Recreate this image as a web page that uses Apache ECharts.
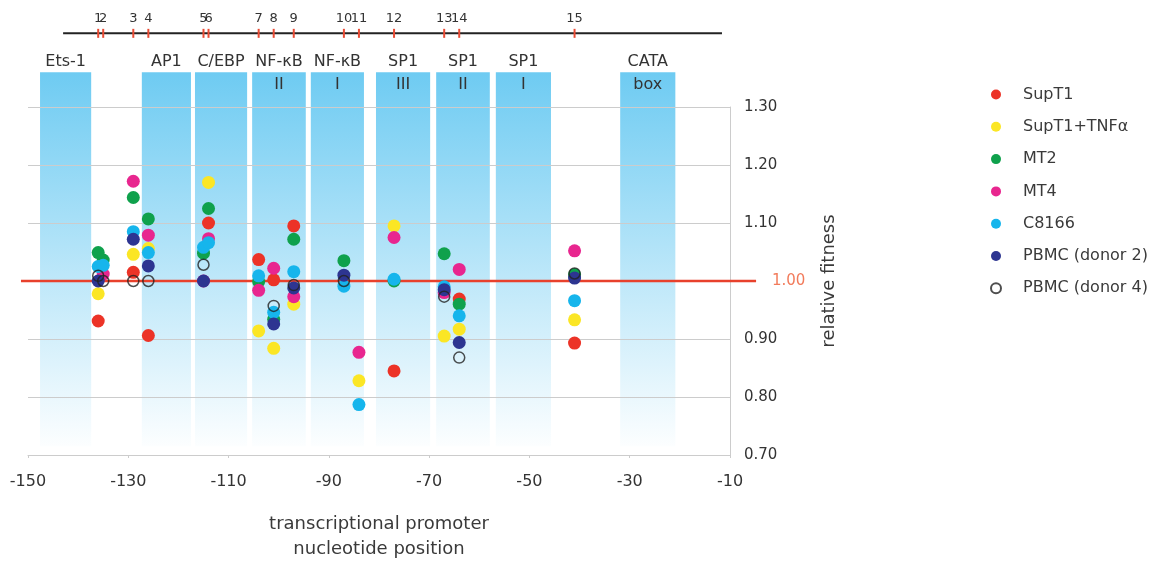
<!DOCTYPE html>
<html>
<head>
<meta charset="utf-8">
<title>relative fitness by promoter position</title>
<script src="https://cdn.jsdelivr.net/npm/echarts@6/dist/echarts.min.js"></script>
<style>
html, body { margin: 0; padding: 0; background: #fff; }
#main { width: 1167px; height: 562px; }
</style>
</head>
<body>
<div id="main"></div>
<script>
// promoter sites (nucleotide position) and their numbers on the map
var siteNums = [1, 2, 3, 4, 5, 6, 7, 8, 9, 10, 11, 12, 13, 14, 15];
var sitePos = [-136, -135, -129, -126, -115, -114, -104, -101, -97, -87, -84, -77, -67, -64, -41];

// transcription factor motifs
var motifTop = ['Ets-1', 'AP1', 'C/EBP', 'NF-\u03baB', 'NF-\u03baB', 'SP1', 'SP1', 'SP1', 'CATA'];
var motifSub = ['', '', '', 'II', 'I', 'III', 'II', 'I', 'box'];
var motifStart = [-147.6, -127.3, -116.7, -105.3, -93.6, -80.6, -68.6, -56.7, -31.9];
var motifEnd = [-137.4, -117.5, -106.3, -94.6, -83.0, -69.8, -57.9, -45.7, -20.9];

// promoter line on top and the reference line at 1.00
var mapLine = [-143.0, -11.6];
var refLine = [-151.4, 1.0, -4.8];

// relative fitness per site (null = no point)
var supT1     = [0.931, null, 1.015, 0.906, null, 1.100, 1.037, 1.002, 1.095, null, null, 0.845, null, 0.969, 0.893];
var supT1TNF  = [0.978, null, 1.046, 1.056, null, 1.170, 0.914, 0.884, 0.960, null, 0.828, 1.095, 0.905, 0.917, 0.933];
var mt2       = [1.049, 1.036, 1.144, 1.107, 1.048, 1.125, 0.999, 0.934, 1.072, 1.035, null, 1.000, 1.047, 0.960, 1.011];
var mt4       = [null, 1.012, 1.172, 1.079, 1.000, 1.073, 0.984, 1.022, 0.973, null, 0.877, 1.075, 0.980, 1.020, 1.052];
var c8166     = [1.025, 1.027, 1.085, 1.049, 1.058, 1.066, 1.009, 0.946, 1.016, 0.991, 0.787, 1.003, 0.990, 0.940, 0.966];
var pbmc2     = [1.000, null, 1.072, 1.026, 1.000, null, null, 0.926, 0.988, 1.010, null, null, 0.985, 0.894, 1.005];
var pbmc4     = [1.009, 1.000, 1.000, 1.000, 1.028, null, null, 0.957, 0.993, 1.000, null, null, 0.973, 0.868, 1.013];

var FONT = 'DejaVu Sans';
var BOX_TOP = 1.360, BOX_BOTTOM = 0.715;
var MAP_Y = 1.427;

function toPoints(vals) {
    var out = [];
    for (var i = 0; i < vals.length; i++) {
        if (vals[i] != null) out.push([sitePos[i], vals[i]]);
    }
    return out;
}

function dotSeries(name, vals, color) {
    return {
        name: name,
        type: 'scatter',
        symbol: 'circle',
        symbolSize: 13,
        itemStyle: { color: color, opacity: 1 },
        data: toPoints(vals),
        z: 5
    };
}

var chart = echarts.init(document.getElementById('main'));

var option = {
    animation: false,
    backgroundColor: '#fff',
    grid: { left: 28, right: 437, top: 107, bottom: 107, outerBoundsMode: 'none', containLabel: false },
    legend: {
        orient: 'vertical',
        left: 985,
        top: 81,
        itemWidth: 10,
        itemHeight: 10,
        itemGap: 15.3,
        textStyle: { fontFamily: FONT, fontSize: 16, color: '#3a3a3a', padding: [0, 0, 0, 17], lineHeight: 17 },
        data: ['SupT1', 'SupT1+TNF\u03b1', 'MT2', 'MT4', 'C8166', 'PBMC (donor 2)', 'PBMC (donor 4)']
    },
    xAxis: {
        type: 'value',
        min: -150,
        max: -10,
        interval: 20,
        axisLine: { show: true, onZero: false, lineStyle: { color: '#cccccc' } },
        axisTick: { show: true, length: 3, lineStyle: { color: '#cccccc' } },
        splitLine: { show: false },
        axisLabel: { fontFamily: FONT, fontSize: 16, color: '#333', margin: 19 },
        name: 'transcriptional promoter\nnucleotide position',
        nameLocation: 'middle',
        nameGap: 57,
        nameTextStyle: { fontFamily: FONT, fontSize: 18, color: '#3a3a3a', lineHeight: 25 }
    },
    yAxis: {
        type: 'value',
        position: 'right',
        min: 0.7,
        max: 1.3,
        interval: 0.1,
        axisLine: { show: true, lineStyle: { color: '#cccccc' } },
        axisTick: { show: false },
        splitLine: { show: true, lineStyle: { color: '#cccccc' } },
        axisLabel: {
            fontFamily: FONT, fontSize: 15, color: '#333', margin: 14,
            formatter: function (v) {
                if (Math.abs(v - 1) < 1e-6) return '{r|1.00}';
                return v.toFixed(2);
            },
            rich: { r: { fontFamily: FONT, fontSize: 15, color: '#f27b5b', padding: [0, 0, 0, 28] } }
        },
        name: 'relative fitness',
        nameLocation: 'middle',
        nameRotate: 90,
        nameGap: 90,
        nameTextStyle: { fontFamily: FONT, fontSize: 18, color: '#3a3a3a' }
    },
    series: [
        {
            // motif boxes
            name: 'motifs',
            type: 'custom',
            z: -1,
            silent: true,
            clip: false,
            data: motifStart.map(function (s, i) { return [s, motifEnd[i]]; }),
            renderItem: function (params, api) {
                var i = params.dataIndex;
                var p0 = api.coord([api.value(0), BOX_TOP]);
                var p1 = api.coord([api.value(1), BOX_BOTTOM]);
                var cx = (p0[0] + p1[0]) / 2;
                return {
                    type: 'group',
                    children: [
                        {
                            type: 'rect',
                            shape: { x: p0[0], y: p0[1], width: p1[0] - p0[0], height: p1[1] - p0[1] },
                            style: {
                                fill: new echarts.graphic.LinearGradient(0, 0, 0, 1, [
                                    { offset: 0, color: 'rgba(110,203,242,1)' },
                                    { offset: 0.55, color: 'rgba(110,203,242,0.45)' },
                                    { offset: 1, color: 'rgba(110,203,242,0.02)' }
                                ])
                            }
                        },
                        {
                            type: 'text',
                            x: cx, y: p0[1] - 10,
                            style: { text: motifTop[i], align: 'center', verticalAlign: 'middle', fontFamily: FONT, fontSize: 16, fill: '#333' }
                        },
                        {
                            type: 'text',
                            x: cx, y: p0[1] + 13,
                            style: { text: motifSub[i], align: 'center', verticalAlign: 'middle', fontFamily: FONT, fontSize: 16, fill: '#333' }
                        }
                    ]
                };
            }
        },
        {
            // promoter line on top
            name: 'map',
            type: 'custom',
            silent: true,
            clip: false,
            data: [mapLine],
            renderItem: function (params, api) {
                var a = api.coord([api.value(0), MAP_Y]);
                var b = api.coord([api.value(1), MAP_Y]);
                return {
                    type: 'line',
                    shape: { x1: a[0], y1: a[1], x2: b[0], y2: b[1] },
                    style: { stroke: '#222', lineWidth: 2 }
                };
            }
        },
        {
            // numbered sites on the promoter line
            name: 'sites',
            type: 'custom',
            silent: true,
            clip: false,
            z: 3,
            data: sitePos.map(function (p, i) { return [p, siteNums[i]]; }),
            renderItem: function (params, api) {
                var c = api.coord([api.value(0), MAP_Y]);
                return {
                    type: 'group',
                    children: [
                        {
                            type: 'line',
                            shape: { x1: c[0], y1: c[1] - 4.5, x2: c[0], y2: c[1] + 4.5 },
                            style: { stroke: '#ea4b34', lineWidth: 2 }
                        },
                        {
                            type: 'text',
                            x: c[0], y: c[1] - 15,
                            style: { text: String(api.value(1)), align: 'center', verticalAlign: 'middle', fontFamily: FONT, fontSize: 13, fill: '#333' }
                        }
                    ]
                };
            }
        },
        {
            // reference line at 1.00
            name: 'ref',
            type: 'custom',
            silent: true,
            clip: false,
            z: 1,
            data: [refLine],
            renderItem: function (params, api) {
                var a = api.coord([api.value(0), api.value(1)]);
                var b = api.coord([api.value(2), api.value(1)]);
                return {
                    type: 'line',
                    shape: { x1: a[0], y1: a[1], x2: b[0], y2: b[1] },
                    style: { stroke: '#e8412c', lineWidth: 2.5 }
                };
            }
        },
        dotSeries('SupT1', supT1, '#ec3327'),
        dotSeries('SupT1+TNF\u03b1', supT1TNF, '#fbe625'),
        dotSeries('MT2', mt2, '#0fa14c'),
        dotSeries('MT4', mt4, '#e8268f'),
        dotSeries('C8166', c8166, '#16b5ec'),
        dotSeries('PBMC (donor 2)', pbmc2, '#2d3591'),
        {
            name: 'PBMC (donor 4)',
            type: 'scatter',
            symbol: 'circle',
            symbolSize: 11,
            itemStyle: { color: 'rgba(255,255,255,0)', borderColor: '#222', borderWidth: 1.5 },
            data: toPoints(pbmc4),
            z: 6
        }
    ]
};

chart.setOption(option);
</script>
</body>
</html>
